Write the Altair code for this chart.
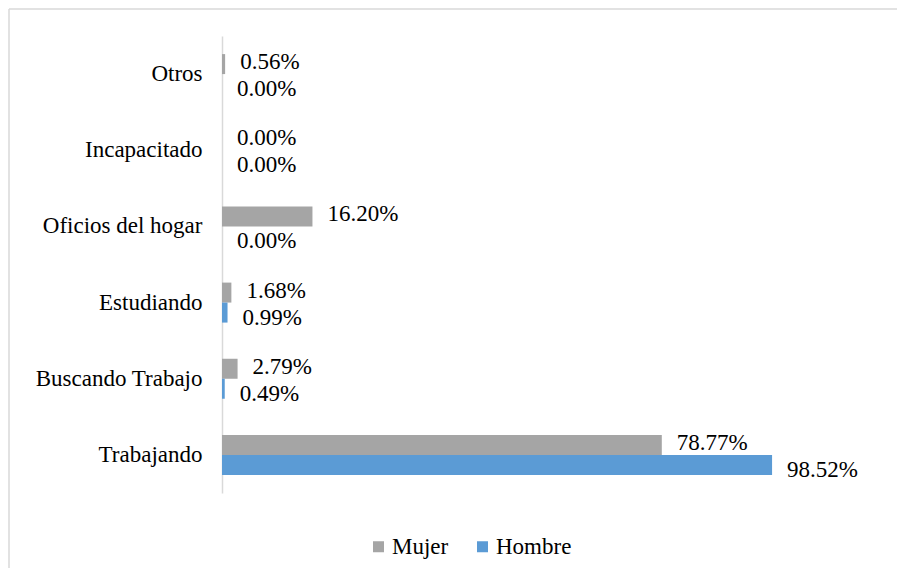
import altair as alt
import pandas as pd

categories = ["Otros", "Incapacitado", "Oficios del hogar", "Estudiando", "Buscando Trabajo", "Trabajando"]
series = ["Mujer", "Hombre"]
mujer = [0.0056, 0.0, 0.1620, 0.0168, 0.0279, 0.7877]
hombre = [0.0, 0.0, 0.0, 0.0099, 0.0049, 0.9852]
colors = ["#A5A5A5", "#5B9BD5"]

rows = []
for c, m, h in zip(categories, mujer, hombre):
    rows.append({"cat": c, "serie": "Mujer", "val": m})
    rows.append({"cat": c, "serie": "Hombre", "val": h})
df = pd.DataFrame(rows)

FONT = "Liberation Serif"
FS = 23

y = alt.Y("cat:N", sort=categories,
          scale=alt.Scale(domain=categories, paddingInner=0.475, paddingOuter=0.2375),
          axis=alt.Axis(title=None, ticks=False, domainColor="#D9D9D9", domainWidth=1.5,
                        labelFont=FONT, labelFontSize=FS, labelColor="black",
                        labelPadding=20, grid=False))
yoff = alt.YOffset("serie:N", sort=series, scale=alt.Scale(domain=series))
x = alt.X("val:Q", scale=alt.Scale(domain=[0, 1.2]), axis=None)

base = alt.Chart(df)

bars = base.mark_bar().encode(
    x=x, y=y, yOffset=yoff,
    color=alt.Color("serie:N", sort=series,
                    scale=alt.Scale(domain=series, range=colors),
                    legend=alt.Legend(orient="none", legendX=145, legendY=499,
                                      direction="horizontal", title=None,
                                      symbolType="square", symbolSize=121,
                                      symbolStrokeWidth=0,
                                      labelFont=FONT, labelFontSize=FS, labelColor="black",
                                      labelOffset=2, columnPadding=22)),
)

labels_m = base.transform_filter(alt.datum.serie == "Mujer").mark_text(
    align="left", baseline="middle", dx=15, dy=-2,
    font=FONT, fontSize=FS, color="black").encode(
    x=x, y=y, yOffset=yoff,
    text=alt.Text("val:Q", format=".2%"),
)
labels_h = base.transform_filter(alt.datum.serie == "Hombre").mark_text(
    align="left", baseline="middle", dx=15, dy=5,
    font=FONT, fontSize=FS, color="black").encode(
    x=x, y=y, yOffset=yoff,
    text=alt.Text("val:Q", format=".2%"),
)

frame_df = pd.DataFrame({"k": [0]})
top_line = alt.Chart(frame_df).mark_rule(color="#D9D9D9", strokeWidth=1.5).encode(
    x=alt.value(-213), x2=alt.value(700), y=alt.value(-27))
left_line = alt.Chart(frame_df).mark_rule(color="#D9D9D9", strokeWidth=1.5).encode(
    x=alt.value(-213), y=alt.value(-27), y2=alt.value(560))

chart = alt.layer(bars, labels_m, labels_h, top_line, left_line).properties(
    width=670, height=457,
    autosize=alt.AutoSizeParams(type="none"),
    padding={"left": 214, "top": 28, "right": 5, "bottom": 75},
).configure_view(stroke=None)

chart.save("out.html", embed_options={"renderer": "svg", "actions": False})
